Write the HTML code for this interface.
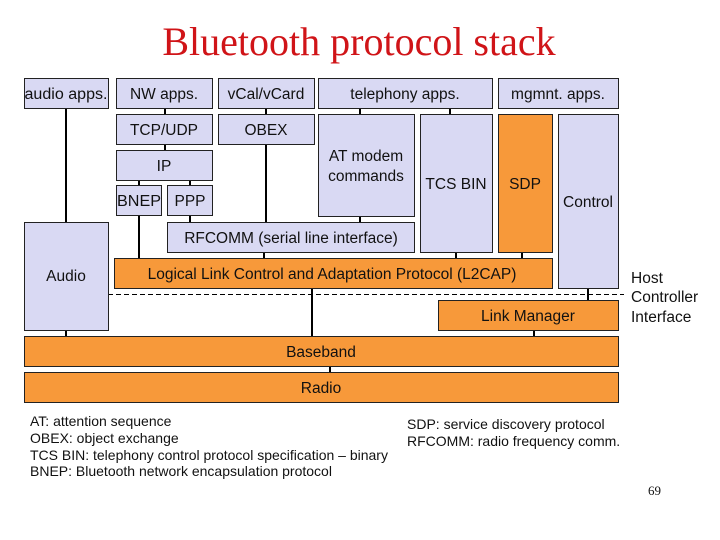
<!DOCTYPE html>
<html><head><meta charset="utf-8"><style>
html,body{margin:0;padding:0;background:#fff}
svg{display:block}
text{font-family:"Liberation Sans",sans-serif;fill:#111}
</style></head><body>
<svg width="720" height="540" viewBox="0 0 720 540" xmlns="http://www.w3.org/2000/svg">
<text x="359" y="55" text-anchor="middle" style="font-family:'Liberation Serif',serif;font-size:40px;fill:#d01418">Bluetooth protocol stack</text>
<g stroke="#000" stroke-width="2">
<line x1="66" y1="108" x2="66" y2="336"/>
<line x1="165" y1="108" x2="165" y2="150"/>
<line x1="139" y1="180" x2="139" y2="258"/>
<line x1="190" y1="180" x2="190" y2="222"/>
<line x1="266" y1="108" x2="266" y2="222"/>
<line x1="264" y1="252" x2="264" y2="258"/>
<line x1="360" y1="108" x2="360" y2="222"/>
<line x1="450" y1="108" x2="450" y2="114"/>
<line x1="456" y1="252" x2="456" y2="258"/>
<line x1="522" y1="252" x2="522" y2="258"/>
<line x1="312" y1="288" x2="312" y2="336"/>
<line x1="588" y1="288" x2="588" y2="300"/>
<line x1="534" y1="330" x2="534" y2="336"/>
<line x1="330" y1="366" x2="330" y2="372"/>
</g>
<line x1="108" y1="294.5" x2="624" y2="294.5" stroke="#000" stroke-width="1" stroke-dasharray="5,3"/>
<g stroke="#222" stroke-width="1" fill="#d9d9f3">
<rect x="24.5" y="78.5" width="84" height="30"/>
<rect x="116.5" y="78.5" width="96" height="30"/>
<rect x="218.5" y="78.5" width="96" height="30"/>
<rect x="318.5" y="78.5" width="174" height="30"/>
<rect x="498.5" y="78.5" width="120" height="30"/>
<rect x="116.5" y="114.5" width="96" height="30"/>
<rect x="218.5" y="114.5" width="96" height="30"/>
<rect x="116.5" y="150.5" width="96" height="30"/>
<rect x="116.5" y="185.5" width="45" height="30"/>
<rect x="167.5" y="185.5" width="45" height="30"/>
<rect x="318.5" y="114.5" width="96" height="102"/>
<rect x="420.5" y="114.5" width="72" height="138"/>
<rect x="558.5" y="114.5" width="60" height="174"/>
<rect x="167.5" y="222.5" width="247" height="30"/>
<rect x="24.5" y="222.5" width="84" height="108"/>
</g>
<g stroke="#222" stroke-width="1" fill="#f7993a">
<rect x="498.5" y="114.5" width="54" height="138"/>
<rect x="114.5" y="258.5" width="438" height="30"/>
<rect x="438.5" y="300.5" width="180" height="30"/>
<rect x="24.5" y="336.5" width="594" height="30"/>
<rect x="24.5" y="372.5" width="594" height="30"/>
</g>
<g font-size="15.5" text-anchor="middle">
<text x="66" y="99" textLength="83" lengthAdjust="spacingAndGlyphs">audio apps.</text>
<text x="164" y="99">NW apps.</text>
<text x="266" y="99">vCal/vCard</text>
<text x="405" y="99">telephony apps.</text>
<text x="558" y="99">mgmnt. apps.</text>
<text x="164" y="135">TCP/UDP</text>
<text x="266" y="135">OBEX</text>
<text x="164" y="171">IP</text>
<text x="139" y="206" textLength="44" lengthAdjust="spacingAndGlyphs">BNEP</text>
<text x="190" y="206">PPP</text>
<text x="366" y="161">AT modem</text>
<text x="366" y="181">commands</text>
<text x="456" y="189">TCS BIN</text>
<text x="525" y="189">SDP</text>
<text x="588" y="207">Control</text>
<text x="291" y="243">RFCOMM (serial line interface)</text>
<text x="66" y="281">Audio</text>
<text x="332" y="279">Logical Link Control and Adaptation Protocol (L2CAP)</text>
<text x="528" y="321">Link Manager</text>
<text x="321" y="357">Baseband</text>
<text x="321" y="393">Radio</text>
</g>
<g font-size="15.5">
<text x="631" y="283">Host</text>
<text x="631" y="302">Controller</text>
<text x="631" y="322">Interface</text>
</g>
<g font-size="14">
<text x="30" y="426">AT: attention sequence</text>
<text x="30" y="443">OBEX: object exchange</text>
<text x="30" y="460">TCS BIN: telephony control protocol specification – binary</text>
<text x="30" y="476">BNEP: Bluetooth network encapsulation protocol</text>
<text x="407" y="429">SDP: service discovery protocol</text>
<text x="407" y="446">RFCOMM: radio frequency comm.</text>
</g>
<text x="648" y="495" style="font-family:'Liberation Serif',serif;font-size:13px">69</text>
</svg>
</body></html>
